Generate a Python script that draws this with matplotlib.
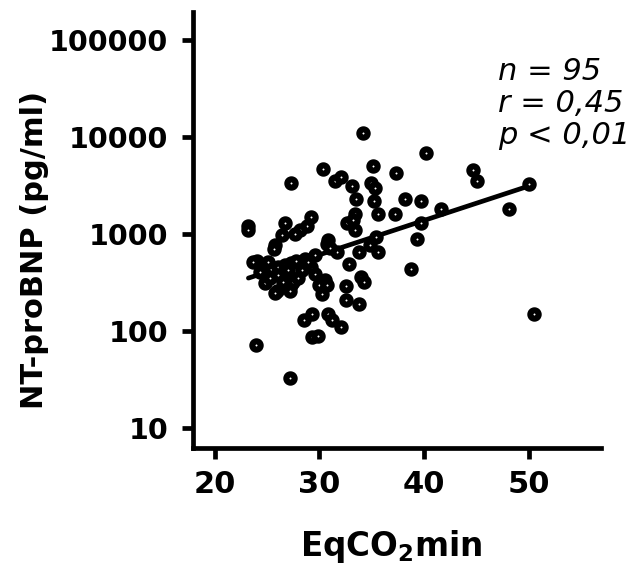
import numpy as np
import matplotlib
matplotlib.use("Agg")
import matplotlib.pyplot as plt
from matplotlib.ticker import FixedLocator, NullLocator

# EqCO2min vs NT-proBNP
eqco2 = [34.2, 40.2, 35.1, 30.3, 27.3, 31.5, 32.1, 33.1, 34.9, 35.3,
         37.3, 44.7, 45.1, 50.0, 33.5, 35.2, 38.2, 39.7, 35.6, 37.2,
         33.4, 29.2, 41.6, 48.1, 23.2, 23.2, 26.7, 28.8, 28.1, 27.7,
         32.6, 33.2, 33.4, 39.7, 26.4, 25.7, 25.6, 30.8, 30.7, 34.8,
         35.4, 39.3, 31.7, 33.8, 35.6, 24.0, 32.8, 38.8, 29.6, 34.0,
         34.3, 30.5, 30.0, 30.7, 24.8, 25.9, 27.3, 27.5, 32.5, 30.2,
         32.5, 33.8, 25.7, 27.2, 28.5, 29.3, 30.8, 31.2, 32.1, 29.3,
         29.9, 23.9, 27.2, 50.5, 24.8, 25.4, 26.0, 26.7, 27.3, 27.8,
         28.6, 29.6, 26.7, 25.3, 26.0, 28.3, 29.2, 24.3, 26.5, 27.9,
         31.0, 28.9, 27.0, 23.6, 25.1]
ntprobnp = [11000, 6900, 5000, 4700, 3400, 3500, 3900, 3100, 3400, 3000,
            4300, 4600, 3500, 3300, 2300, 2200, 2300, 2200, 1600, 1600,
            1600, 1500, 1800, 1800, 1200, 1100, 1300, 1200, 1100, 1000,
            1300, 1400, 1100, 1300, 970, 770, 700, 870, 800, 780,
            940, 900, 660, 660, 660, 530, 490, 440, 390, 360,
            320, 340, 300, 300, 310, 260, 300, 320, 290, 240,
            210, 190, 250, 260, 130, 150, 150, 130, 110, 87,
            90, 72, 33, 150, 460, 440, 460, 480, 500, 530,
            560, 610, 390, 350, 380, 430, 460, 410, 320, 350,
            720, 510, 430, 510, 510]
fit_range = [23.2, 50.0]
stats = ['n = 95', 'r = 0,45', 'p < 0,01']

x = np.array(eqco2)
y = np.array(ntprobnp)

# regression in log space
k, b = np.polyfit(x, np.log10(y), 1)
xf = np.array(fit_range)
yf = 10 ** (k * xf + b)

plt.rcParams['font.family'] = ['DejaVu Sans']

fig = plt.figure(figsize=(6.37, 5.66), dpi=100)
ax = fig.add_axes([0.303, 0.2085, 0.640, 0.770])

ax.plot(xf, yf, color='black', lw=3.4, solid_capstyle='round', zorder=2)
ax.plot(x, y, 'o', ms=6.0, mfc='white', mec='black', mew=4.4, zorder=3)

ax.set_yscale('log')
ax.set_xlim(17.9, 56.9)
ax.set_ylim(6.23, 194500)

ax.yaxis.set_major_locator(FixedLocator([10, 100, 1000, 10000, 100000]))
ax.yaxis.set_minor_locator(NullLocator())
ax.set_yticklabels(['10', '100', '1000', '10000', '100000'])
ax.set_xticks([20, 30, 40, 50])

for s in ['top', 'right']:
    ax.spines[s].set_visible(False)
for s in ['left', 'bottom']:
    ax.spines[s].set_linewidth(3.4)

ax.tick_params(axis='both', width=3.4, length=8)
ax.tick_params(axis='y', labelsize=20.5, pad=10)
ax.tick_params(axis='x', labelsize=22, pad=8)
for lab in ax.get_xticklabels() + ax.get_yticklabels():
    lab.set_fontweight('bold')

fig.text(35 / 637, 1 - 250 / 566, 'NT-proBNP (pg/ml)', rotation=90,
         fontsize=22, fontweight='bold', ha='center', va='center')
fig.text(391 / 637, 1 - 556 / 566, r'EqCO$_\mathbf{2}$min', fontsize=23.5,
         fontweight='bold', ha='center', va='baseline')

for i, s in enumerate(stats):
    fig.text(498 / 637, 1 - (80 + 32 * i) / 566, s, fontsize=22,
             fontstyle='italic', ha='left', va='baseline')

fig.savefig('out.png', dpi=100)
